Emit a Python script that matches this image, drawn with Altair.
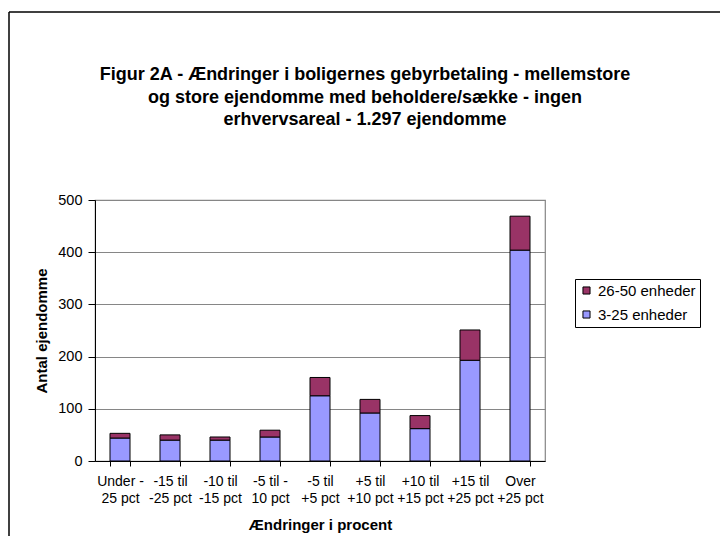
import altair as alt
import pandas as pd

categories = ["Under -|25 pct", "-15 til|-25 pct", "-10 til|-15 pct", "-5 til -|10 pct",
              "-5 til|+5 pct", "+5 til|+10 pct", "+10 til|+15 pct", "+15 til|+25 pct",
              "Over|+25 pct"]
small_units = [44, 40, 40, 46, 125, 92, 62, 193, 404]   # 3-25 enheder
large_units = [9, 10, 6, 13, 35, 26, 25, 58, 65]        # 26-50 enheder
series_names = ["26-50 enheder", "3-25 enheder"]
series_colors = ["#993366", "#9999FF"]
title_lines = ["Figur 2A - Ændringer i boligernes gebyrbetaling - mellemstore",
               "og store ejendomme med beholdere/sække - ingen",
               "erhvervsareal - 1.297 ejendomme"]

rows = []
for c, s, l in zip(categories, small_units, large_units):
    rows.append({"cat": c, "serie": "3-25 enheder", "val": s, "ord": 0})
    rows.append({"cat": c, "serie": "26-50 enheder", "val": l, "ord": 1})
df = pd.DataFrame(rows)

FONT = "Liberation Sans"

bars = alt.Chart(df).mark_bar(stroke="black", strokeWidth=1).encode(
    x=alt.X("cat:N", sort=categories,
            scale=alt.Scale(paddingInner=0.6, paddingOuter=0.3),
            axis=alt.Axis(title="Ændringer i procent", labelAngle=0,
                          labelExpr="split(datum.label, '|')",
                          labelLineHeight=17, labelFontSize=14, labelPadding=8,
                          tickBand="extent", tickSize=5, tickColor="black",
                          domainColor="black", titleFontSize=15, titleFontWeight="bold",
                          titlePadding=12, grid=False, labelColor="black", titleColor="black")),
    y=alt.Y("val:Q", stack="zero",
            scale=alt.Scale(domain=[0, 500], nice=False),
            axis=alt.Axis(title="Antal ejendomme", values=[0, 100, 200, 300, 400, 500],
                          labelFontSize=14.5, tickSize=7, tickColor="black", labelPadding=6,
                          domainColor="black", gridColor="#868686", gridWidth=1.2,
                          titleFontSize=15, titleFontWeight="bold", titlePadding=8,
                          labelColor="black", titleColor="black")),
    color=alt.Color("serie:N", scale=alt.Scale(domain=series_names, range=series_colors),
                    legend=alt.Legend(title=None, orient="none", legendX=480, legendY=79,
                                      strokeColor="black", padding=4, fillColor="white",
                                      symbolType="square", symbolSize=50,
                                      symbolStrokeColor="black", symbolStrokeWidth=1,
                                      labelFontSize=15, labelOffset=4, rowPadding=8,
                                      labelColor="black")),
    order=alt.Order("ord:Q", sort="ascending"),
)

frame = pd.DataFrame({"k": [0]})
vline = alt.Chart(frame).mark_rule(color="black", strokeWidth=1.5).encode(
    x=alt.value(-86), y=alt.value(-188), y2=alt.value(400))
hline = alt.Chart(frame).mark_rule(color="black", strokeWidth=1.5).encode(
    x=alt.value(-86), x2=alt.value(700), y=alt.value(-188))
title = alt.Chart(frame).mark_text(
    fontSize=18, fontWeight="bold", lineHeight=22.5, align="center", baseline="middle",
    color="black", font=FONT
).encode(x=alt.value(270), y=alt.value(-125), text=alt.value(title_lines))

chart = alt.layer(bars, vline, hline, title).properties(
    width=450, height=261,
    padding={"left": 87, "top": 192, "right": 175, "bottom": 75},
    autosize=alt.AutoSizeParams(type="none"),
).configure(font=FONT, background="white").configure_view(
    stroke="#868686", strokeWidth=1.2
)

chart.save("out.html", embed_options={"renderer": "svg", "actions": False})
